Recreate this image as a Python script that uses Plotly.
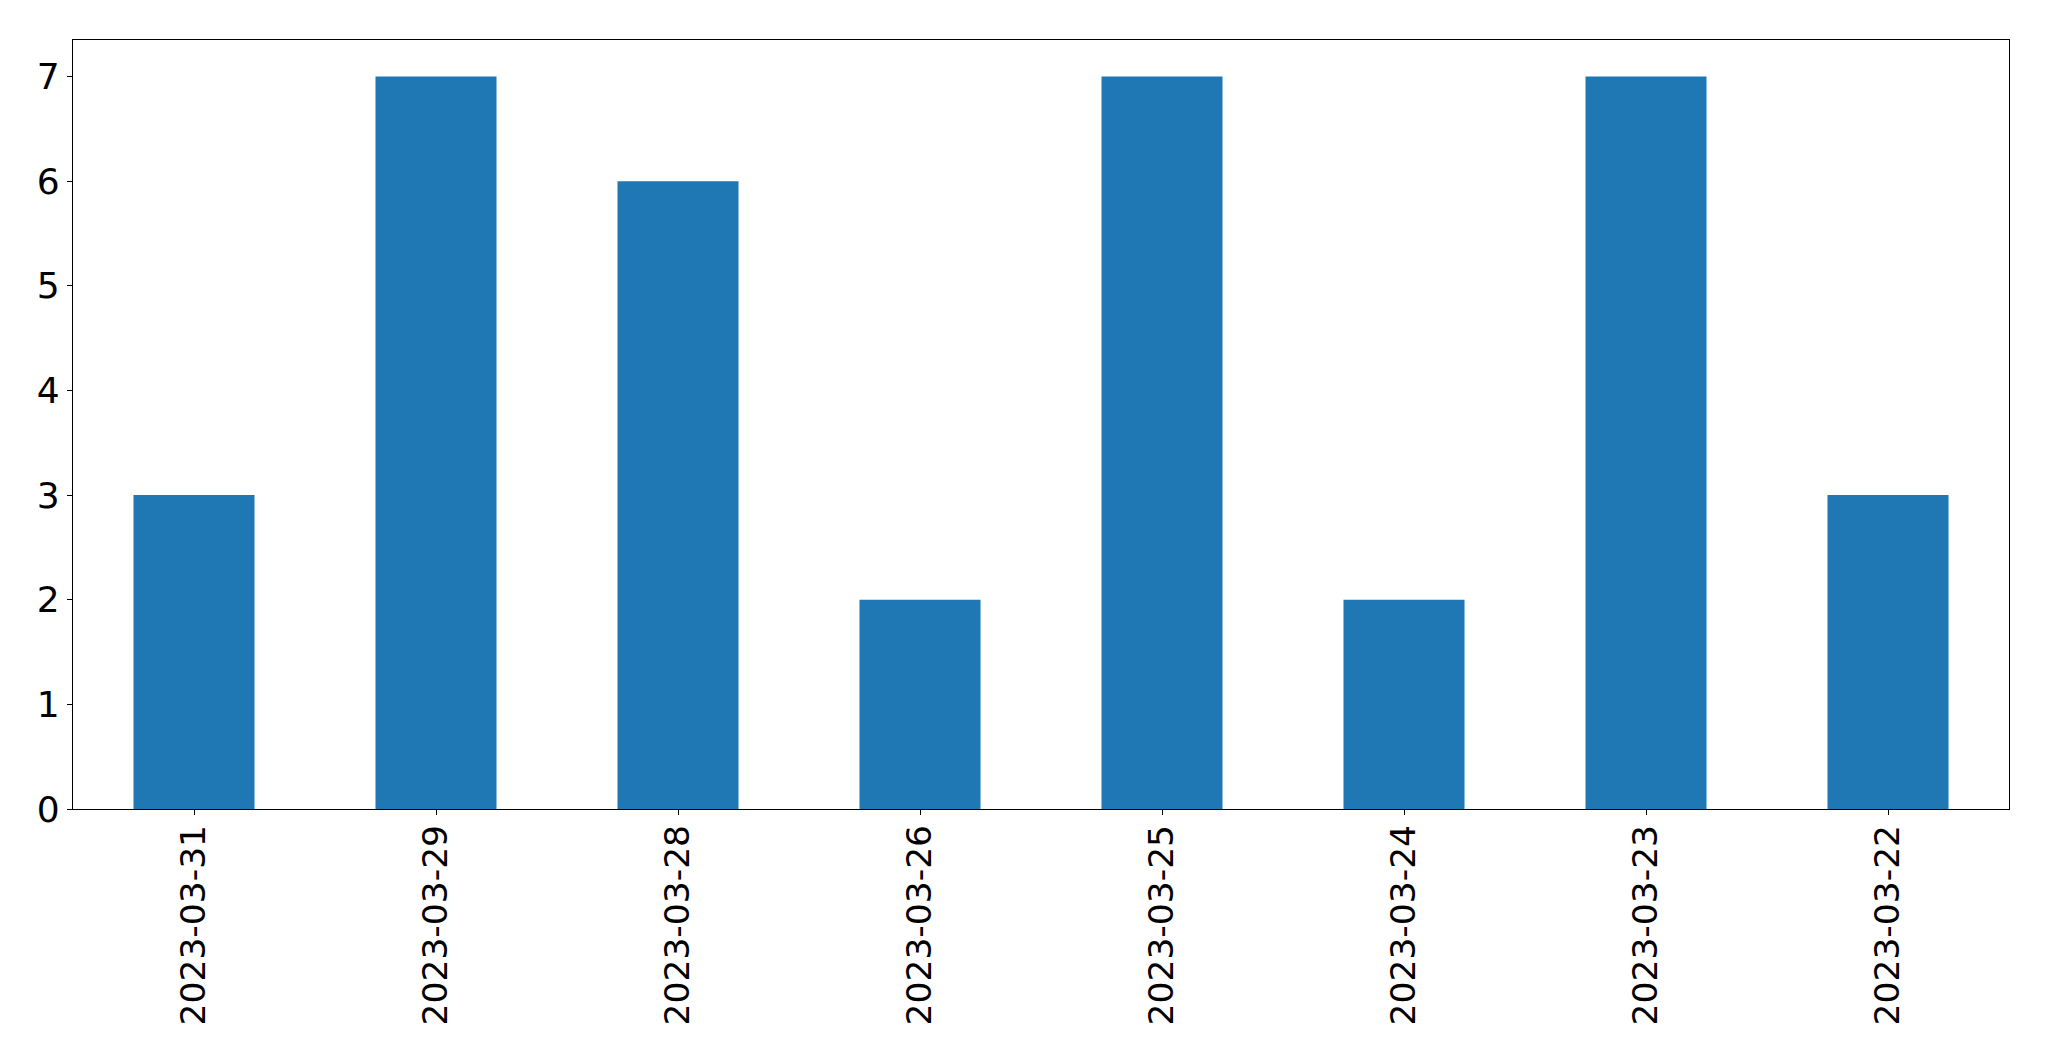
import plotly.graph_objects as go

dates = ["2023-03-31", "2023-03-29", "2023-03-28", "2023-03-26",
         "2023-03-25", "2023-03-24", "2023-03-23", "2023-03-22"]
counts = [3, 7, 6, 2, 7, 2, 7, 3]

fig = go.Figure(go.Bar(x=dates, y=counts, width=0.5, marker=dict(color="#1f77b4", line=dict(width=0))))

xfont = dict(family="DejaVu Sans", size=34.5, color="black")
yfont = dict(family="DejaVu Sans", size=36, color="black")
fig.update_layout(
    width=2049, height=1061,
    margin=dict(l=64.5, r=48, t=31.5, b=260, pad=0),
    paper_bgcolor="white", plot_bgcolor="white",
    showlegend=False, font=xfont,
)
fig.update_xaxes(type="category", range=[-0.5, 7.5], tickangle=-90,
                 showline=True, linecolor="black", linewidth=1.3, mirror=True,
                 ticks="outside", ticklen=5, tickwidth=1.3, tickcolor="black",
                 ticklabelstandoff=-4,
                 showgrid=False, tickfont=xfont)
fig.update_yaxes(range=[0, 7.35], tickvals=list(range(8)),
                 showline=True, linecolor="black", linewidth=1.3, mirror=True,
                 ticks="outside", ticklen=5, tickwidth=1.3, tickcolor="black",
                 showgrid=False, zeroline=False, tickfont=yfont)
fig.write_html("out.html")
